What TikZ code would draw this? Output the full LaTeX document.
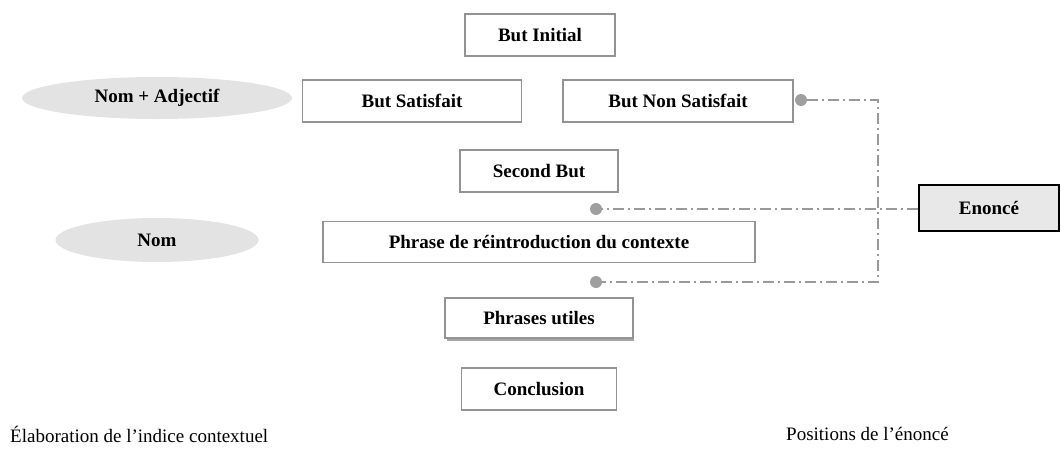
\documentclass[tikz,border=0pt]{standalone}
\usepackage{fontspec}
\setmainfont{Liberation Serif}
\usetikzlibrary{shapes.geometric}
\begin{document}
\begin{tikzpicture}[x=1pt,y=-1pt,
  box/.style={draw=gray!85,line width=1.6pt,fill=white,inner sep=0pt,font=\bfseries\fontsize{19}{21}\selectfont},
  oval/.style={ellipse,fill=gray!22,inner sep=0pt,font=\bfseries\fontsize{19}{21}\selectfont},
  enonce/.style={draw=black,line width=2.6pt,fill=gray!18,inner sep=0pt,font=\bfseries\fontsize{19}{21}\selectfont},
  link/.style={draw=gray!80,line width=1.5pt,dash pattern=on 11pt off 4pt on 2pt off 4pt},
  dot/.style={circle,fill=gray!75,inner sep=0pt,minimum size=12pt},
  lab/.style={font=\fontsize{19}{21}\selectfont,anchor=west,inner sep=0pt}]
\useasboundingbox (0,0) rectangle (1061,461);
\node[box,minimum width=150pt,minimum height=42pt] (bi) at (540,35) {But Initial};
\node[oval,minimum width=270pt,minimum height=42pt] (na) at (157,98) {Nom + Adjectif};
\node[box,minimum width=219pt,minimum height=42pt] (bs) at (412,101) {But Satisfait};
\node[box,minimum width=230pt,minimum height=42pt] (bns) at (678,101) {But Non Satisfait};
\node[box,minimum width=158pt,minimum height=42pt] (sb) at (539,171) {Second But};
\node[enonce,minimum width=140pt,minimum height=46pt] (en) at (989,208) {Enoncé};
\node[oval,minimum width=203pt,minimum height=44pt] (nom) at (157,240) {Nom};
\node[box,minimum width=432pt,minimum height=41pt] (pr) at (539,242) {Phrase de réintroduction du contexte};
\fill[gray!70] (447,336) rectangle (634,341);
\node[box,minimum width=188pt,minimum height=40pt] (pu) at (539,318) {Phrases utiles};
\node[box,minimum width=155pt,minimum height=42pt] (co) at (539,389) {Conclusion};
\node[lab] (l1) at (10,434) {Élaboration de l'indice contextuel};
\node[lab] (l2) at (786,434) {Positions de l'énoncé};
\node[dot] (d1) at (801,100) {};
\node[dot] (d2) at (596,209) {};
\node[dot] (d3) at (596,282) {};
\coordinate (j1) at (878,100);
\coordinate (j2) at (878,282);
\draw[link] (d2 -| en.west) -- (d2);
\draw[link] (d1) -- (j1) -- (j2) -- (d3);
\end{tikzpicture}
\end{document}
